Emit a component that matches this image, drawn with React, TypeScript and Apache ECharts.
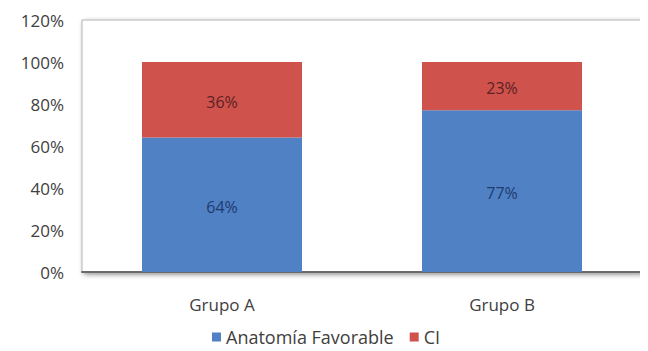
import React, { useEffect, useRef } from "react";
import * as echarts from "echarts";

const categories = ["Grupo A", "Grupo B"];
const favorable = [64, 77];
const ci = [36, 23];
const seriesNames = ["Anatomía Favorable", "CI"];

const FONT = "'Open Sans', Lato, 'DejaVu Sans', sans-serif";

export default function App() {
  const ref = useRef<HTMLDivElement>(null);

  useEffect(() => {
    if (!ref.current) return;
    const chart = echarts.init(ref.current, undefined, { renderer: "svg" });
    chart.setOption({
      animation: false,
      backgroundColor: "#ffffff",
      grid: {
        left: 74,
        right: 6,
        top: 12,
        bottom: 79,
        show: true,
        backgroundColor: "#ffffff",
        borderColor: "#b4b4b4",
        borderWidth: 1,
        shadowColor: "rgba(0,0,0,0.45)",
        shadowBlur: 5,
        shadowOffsetX: 2,
        shadowOffsetY: 2,
      },
      legend: {
        bottom: 0,
        left: 199,
        itemWidth: 9,
        itemHeight: 9,
        itemGap: 16,
        icon: "rect",
        textStyle: { fontFamily: FONT, fontSize: 18, color: "#404040" },
        data: seriesNames,
      },
      xAxis: {
        type: "category",
        data: categories,
        axisLine: { show: true, lineStyle: { color: "#6a6a6a", width: 2 } },
        axisTick: { show: false },
        axisLabel: {
          fontFamily: FONT,
          fontSize: 17,
          color: "#404040",
          margin: 24,
        },
      },
      yAxis: {
        type: "value",
        min: 0,
        max: 120,
        interval: 20,
        axisLine: { show: false },
        axisTick: { show: false },
        splitLine: { show: false },
        axisLabel: {
          fontFamily: FONT,
          fontSize: 17,
          color: "#404040",
          margin: 18,
          formatter: (v: number) => `${v}%`,
        },
      },
      series: [
        {
          name: seriesNames[0],
          type: "bar",
          stack: "total",
          data: favorable,
          barWidth: 160,
          itemStyle: { color: "#4f81c4" },
          label: {
            show: true,
            position: "inside",
            offset: [0, 2],
            formatter: (p: any) => `${p.value}%`,
            fontFamily: FONT,
            fontSize: 16,
            color: "#1f3a70",
          },
        },
        {
          name: seriesNames[1],
          type: "bar",
          stack: "total",
          data: ci,
          barWidth: 160,
          itemStyle: { color: "#cf524d" },
          label: {
            show: true,
            position: "inside",
            offset: [0, 2],
            formatter: (p: any) => `${p.value}%`,
            fontFamily: FONT,
            fontSize: 16,
            color: "#5a2222",
          },
        },
      ],
    });
    return () => chart.dispose();
  }, []);

  return <div ref={ref} style={{ width: 640, height: 343 }} />;
}
